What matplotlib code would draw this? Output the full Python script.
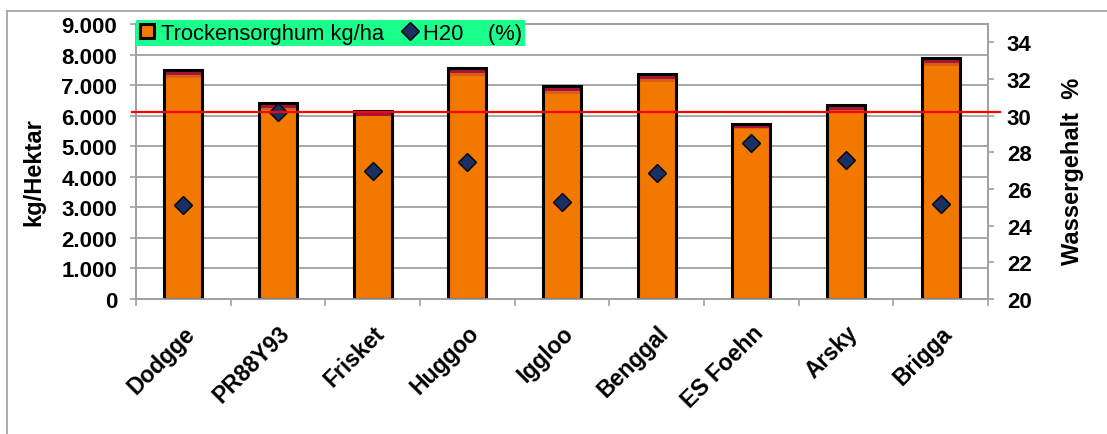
import matplotlib
matplotlib.use("Agg")
import matplotlib.pyplot as plt
from matplotlib.lines import Line2D
from matplotlib.ticker import FuncFormatter, FixedLocator
import matplotlib.transforms as mtransforms
import numpy as np

plt.rcParams['font.family'] = ['Liberation Sans', 'DejaVu Sans']

# ---- data ----
sorten = ["Dodgge", "PR88Y93", "Frisket", "Huggoo", "Iggloo",
          "Benggal", "ES Foehn", "Arsky", "Brigga"]
# stacked bar parts (kg/ha): main, dark-orange band, crimson band
ertrag_haupt = [7220, 6175, 5980, 7300, 6720, 7100, 5560, 6130, 7610]
ertrag_band1 = [120, 90, 0, 85, 90, 90, 40, 55, 100]
ertrag_band2 = [140, 155, 180, 165, 170, 160, 120, 155, 165]
wasser = [25.1, 30.2, 27.0, 27.5, 25.3, 26.9, 28.5, 27.6, 25.2]
referenz_wasser = 30.2

left_ticks = list(range(0, 9001, 1000))
right_ticks = list(range(20, 35, 2))

W, H = 1107, 435
fig = plt.figure(figsize=(W / 100, H / 100), dpi=100)
fig.patch.set_facecolor("white")

# outer chart border (top and left visible)
fig.add_artist(Line2D([7 / W, 7 / W], [0, 1 - 12 / H], transform=fig.transFigure,
                      color="#A6A6A6", lw=1.3))
fig.add_artist(Line2D([7 / W, 1], [1 - 12 / H, 1 - 12 / H], transform=fig.transFigure,
                      color="#A6A6A6", lw=1.3))

ax = fig.add_axes([136 / W, 1 - 300 / H, (988 - 136) / W, (300 - 25) / H])
x = np.arange(len(sorten))
grey = "#A0A0A0"

orange = "#F27800"
dark_orange = "#DA5E14"
crimson = "#A3163A"

b1 = np.array(ertrag_haupt)
b2 = np.array(ertrag_band1)
b3 = np.array(ertrag_band2)
tot = b1 + b2 + b3
bw = 0.4
ax.bar(x, b1, width=bw, color=orange, linewidth=0, zorder=2)
ax.bar(x, b2, bottom=b1, width=bw, color=dark_orange, linewidth=0, zorder=2)
ax.bar(x, b3, bottom=b1 + b2, width=bw, color=crimson, linewidth=0, zorder=2)
ax.bar(x, tot, width=bw, fill=False, edgecolor="black", linewidth=2.2, zorder=3)

ax.set_xlim(-0.5, len(sorten) - 0.5)
ax.set_ylim(0, 9000)
ax.set_axisbelow(True)
ax.yaxis.set_major_locator(FixedLocator(left_ticks))
ax.yaxis.set_major_formatter(FuncFormatter(lambda v, p: f"{int(v):,}".replace(",", ".")))
ax.grid(axis="y", color=grey, lw=1.3, zorder=0)
ax.tick_params(axis="y", direction="out", length=4.5, width=1.2, color=grey,
               labelsize=16, pad=9)
for lab in ax.get_yticklabels():
    lab.set_fontweight("bold")

ax.set_xticks(x)
ax.set_xticklabels(sorten, rotation=45, ha="right", rotation_mode="anchor",
                   fontsize=16.5, fontweight="bold")
ax.set_xticks(np.arange(-0.5, len(sorten), 1.0), minor=True)
ax.tick_params(axis="x", which="major", length=0, pad=16)
ax.tick_params(axis="x", which="minor", length=5, width=1.2, color=grey, direction="out")
offset = mtransforms.ScaledTranslation(0 / 100, 0, fig.dpi_scale_trans)
for lab in ax.get_xticklabels():
    lab.set_transform(lab.get_transform() + offset)

for s in ax.spines.values():
    s.set_color(grey)
    s.set_linewidth(1.2)

ax2 = ax.twinx()
ax2.set_ylim(20, 35)
ax2.yaxis.set_major_locator(FixedLocator(right_ticks))
ax2.tick_params(axis="y", direction="out", length=4.5, width=1.2, color=grey,
                labelsize=16, pad=9)
for lab in ax2.get_yticklabels():
    lab.set_fontweight("bold")
for s in ax2.spines.values():
    s.set_color(grey)
    s.set_linewidth(1.2)

ax2.plot(x, wasser, linestyle="none", marker="D", markersize=9,
         markerfacecolor="#1B2F63", markeredgecolor="black", markeredgewidth=1.0,
         zorder=4)
ax2.axhline(referenz_wasser, xmin=-0.005, xmax=1.014, color="#FF0000", lw=1.6,
            clip_on=False, zorder=5)

fig.text(34 / W, 1 - 172 / H, "kg/Hektar", rotation=90, ha="center", va="center",
         fontsize=17, fontweight="bold")
fig.text(1072 / W, 1 - 171 / H, "Wassergehalt  %", rotation=90, ha="center",
         va="center", fontsize=17, fontweight="bold")

handles = [
    Line2D([], [], linestyle="none", marker="s", markersize=9.5,
           markerfacecolor=orange, markeredgecolor="black", markeredgewidth=2.2),
    Line2D([], [], linestyle="none", marker="D", markersize=9,
           markerfacecolor="#1B2F63", markeredgecolor="black", markeredgewidth=1),
]
leg = fig.legend(handles, ["Trockensorghum kg/ha", "H20    (%)"], ncol=2,
                 loc="upper left", bbox_to_anchor=(136 / W, 1 - 21 / H),
                 bbox_transform=fig.transFigure, borderaxespad=0,
                 fontsize=15.8, frameon=True, fancybox=False, framealpha=1,
                 facecolor="#1AFF8C", edgecolor="#1AFF8C",
                 handlelength=0.8, handletextpad=0.2, columnspacing=0.8,
                 borderpad=0.12)
leg.get_frame().set_linewidth(0)

fig.savefig("out.png", dpi=100, facecolor="white")
